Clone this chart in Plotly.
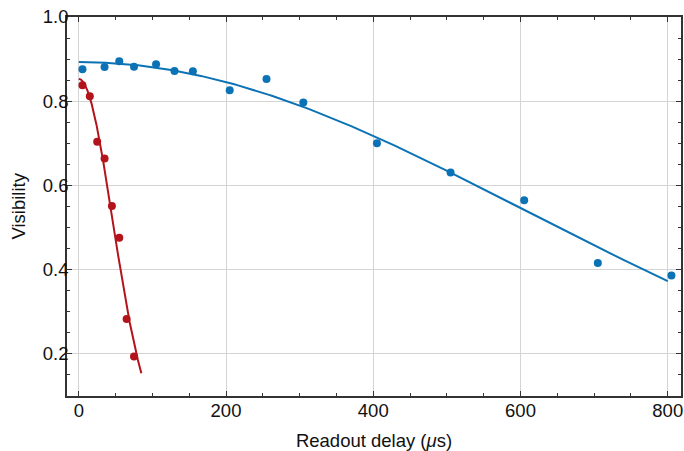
import numpy as np
import plotly.graph_objects as go

# Measured data
blue_delay = [5, 35, 55, 75, 105, 130, 155, 205, 255, 305, 405, 505, 605, 705, 805]
blue_vis = [0.876, 0.881, 0.895, 0.882, 0.888, 0.872, 0.871, 0.826, 0.853, 0.797,
            0.700, 0.631, 0.565, 0.416, 0.386]
red_delay = [5, 15, 25, 35, 45, 55, 65, 75]
red_vis = [0.838, 0.812, 0.704, 0.664, 0.551, 0.476, 0.283, 0.194]

# Gaussian fit parameters (amplitude, decay time in us, fit range end)
blue_fit_A, blue_fit_T, blue_fit_end = 0.893, 856.0, 800.0
red_fit_A, red_fit_T, red_fit_end = 0.853, 65.0, 85.0

BLUE = "#0B72B5"
RED = "#B3141B"
FONT = "Liberation Sans, Arial, sans-serif"
FS = 18.5

xb = np.linspace(0, blue_fit_end, 300)
yb = blue_fit_A * np.exp(-(xb / blue_fit_T) ** 2)
xr = np.linspace(0, red_fit_end, 200)
yr = red_fit_A * np.exp(-(xr / red_fit_T) ** 2)

fig = go.Figure()
fig.add_trace(go.Scatter(x=xb, y=yb, mode="lines", line=dict(color=BLUE, width=2), hoverinfo="skip"))
fig.add_trace(go.Scatter(x=xr, y=yr, mode="lines", line=dict(color=RED, width=2), hoverinfo="skip"))
fig.add_trace(go.Scatter(x=blue_delay, y=blue_vis, mode="markers", marker=dict(color=BLUE, size=8)))
fig.add_trace(go.Scatter(x=red_delay, y=red_vis, mode="markers", marker=dict(color=RED, size=8)))

axis_common = dict(
    showline=True, linecolor="#333333", linewidth=1.5, mirror="allticks",
    ticks="inside", ticklen=5, tickwidth=1.2, tickcolor="#333333",
    showgrid=True, gridcolor="#d4d4d4", gridwidth=1, zeroline=False,
    tickfont=dict(family=FONT, size=FS, color="#111111"),
    automargin=False, ticklabeloverflow="allow",
)

fig.update_xaxes(
    range=[-16, 818], tickmode="array", tickvals=[0, 200, 400, 600, 800],
    minor=dict(dtick=50, tick0=0, ticks="inside", ticklen=3, tickwidth=1, tickcolor="#333333", showgrid=False),
    title=dict(text="Readout delay (<i>μ</i>s)", font=dict(family=FONT, size=FS, color="#111111"), standoff=14),
    ticklabelstandoff=-3,
    **axis_common,
)
fig.update_yaxes(
    range=[0.1, 1.0], tickmode="array", tickvals=[0.2, 0.4, 0.6, 0.8, 1.0], ticktext=["0.2", "0.4", "0.6", "0.8", "1.0"],
    minor=dict(dtick=0.05, tick0=0, ticks="inside", ticklen=3, tickwidth=1, tickcolor="#333333", showgrid=False),
    ticklabelstandoff=-7,
    **axis_common,
)

fig.add_annotation(
    text="Visibility", xref="paper", yref="paper", x=0, y=0.5,
    xanchor="center", yanchor="middle", xshift=-49, textangle=-90, showarrow=False,
    font=dict(family=FONT, size=FS, color="#111111"),
)

fig.update_layout(
    width=684, height=451,
    margin=dict(l=67, r=3, t=17, b=55, autoexpand=False),
    paper_bgcolor="white", plot_bgcolor="white",
    showlegend=False,
)

fig.write_html(
    "out.html",
    config={"displayModeBar": False},
    post_script="document.body.style.margin='0';document.body.style.overflow='hidden';",
)
